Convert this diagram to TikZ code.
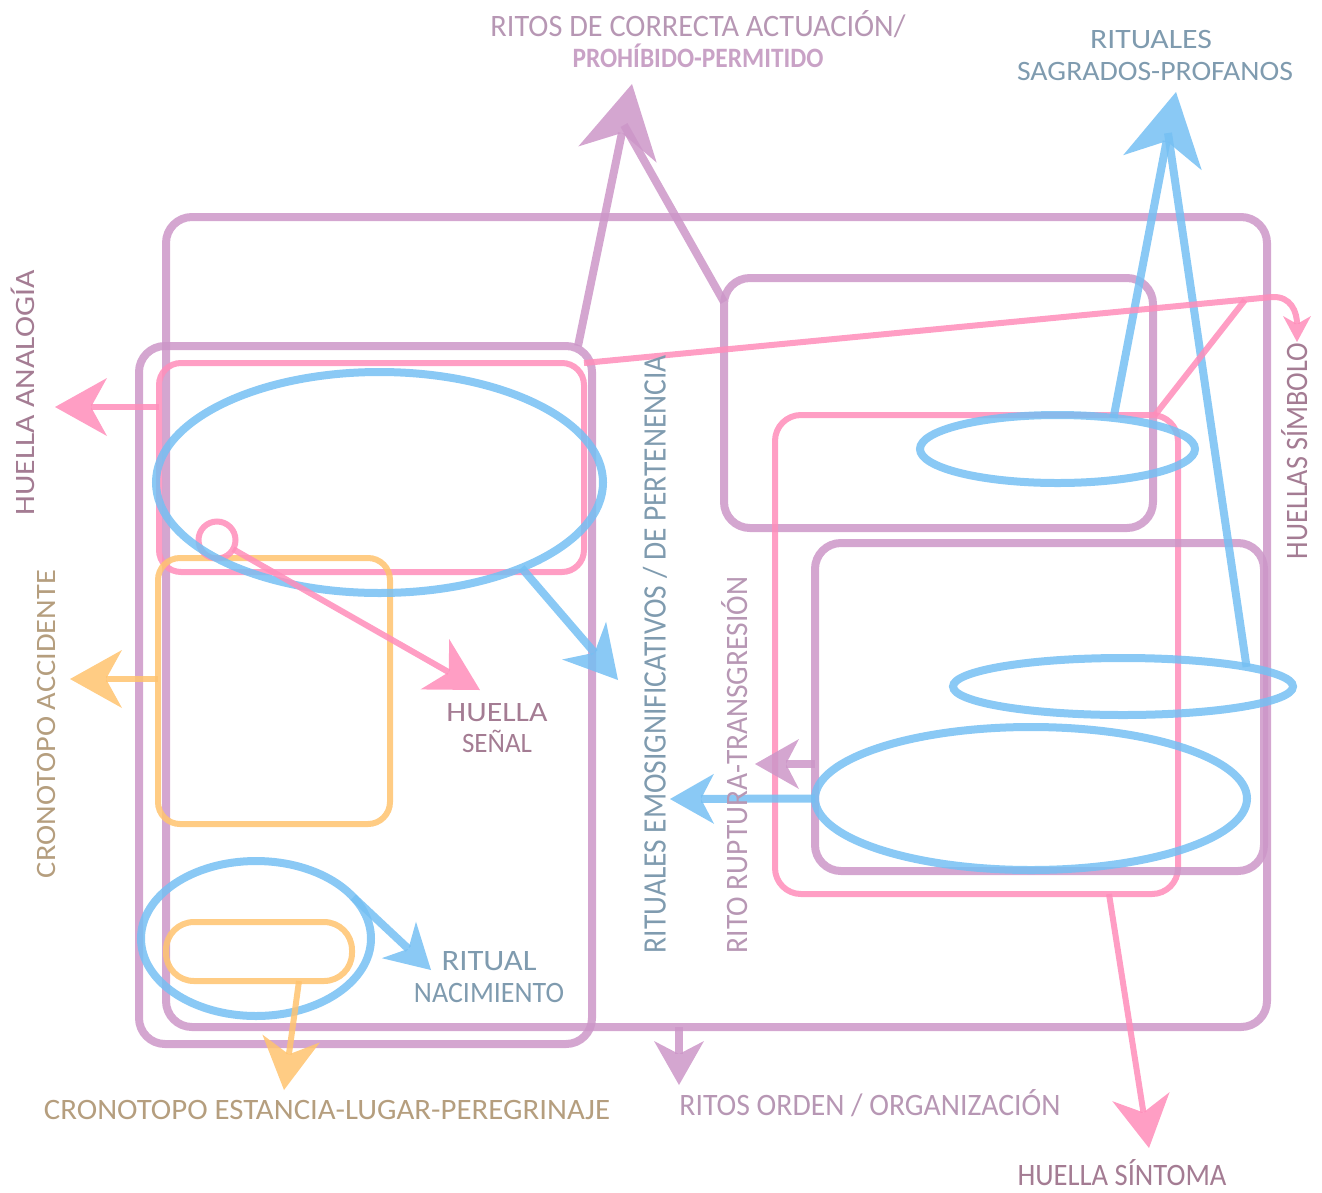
\documentclass[tikz,border=0pt]{standalone}
\usepackage{fontspec}
\setmainfont{Carlito}
\usepackage{graphicx}
\usetikzlibrary{arrows.meta,shapes.geometric}
\definecolor{cP}{RGB}{204,150,200}
\definecolor{cK}{RGB}{255,141,186}
\definecolor{cB}{RGB}{117,191,243}
\definecolor{cO}{RGB}{255,195,111}
\definecolor{tLil}{RGB}{183,151,180}
\definecolor{tLilB}{RGB}{201,162,198}
\definecolor{tBlu}{RGB}{127,155,175}
\definecolor{tMau}{RGB}{164,124,147}
\definecolor{tTan}{RGB}{181,158,126}
\newcommand\fitt[3]{\resizebox{#1}{#2}{\smash{#3}\vphantom{H}}}
\tikzset{
  TipL/.tip={Stealth[length=72pt,width=80pt,inset=22pt,line width=0pt]},
  TipM/.tip={Stealth[length=52pt,width=58pt,inset=16pt,line width=0pt]},
  TipS/.tip={Stealth[length=44pt,width=50pt,inset=13pt,line width=0pt]},
  TipT/.tip={Stealth[length=26pt,width=28pt,inset=8pt,line width=0pt]},
}
\begin{document}
\begin{tikzpicture}[x=1pt,y=-1pt,
  every node/.style={inner sep=0pt,outer sep=0pt},
  pl/.style={draw=cP,line width=8pt,opacity=0.85},
  kl/.style={draw=cK,line width=6pt,opacity=0.85},
  bl/.style={draw=cB,line width=8pt,opacity=0.85},
  ol/.style={draw=cO,line width=6pt,opacity=0.85},
  pbox/.style={pl,rectangle,rounded corners=26pt},
  kbox/.style={kl,rectangle,rounded corners=22pt},
  obox/.style={ol,rectangle,rounded corners=22pt},
  bell/.style={bl,ellipse}]
\useasboundingbox (0,0) rectangle (1322,1192);

% boxes
\node[pbox,minimum width=1101pt,minimum height=810pt] (purpleO) at (716.5,622) {};
\node[pbox,minimum width=453pt,minimum height=698pt] (purpleL) at (365.5,695) {};
\node[kbox,minimum width=425pt,minimum height=209pt] (pinkTL) at (371.5,467.5) {};
\node[obox,minimum width=232pt,minimum height=266pt] (orangeR) at (274,691) {};
\node[obox,rounded corners=28pt,minimum width=186pt,minimum height=59pt] (orangeP) at (259,951.5) {};
\node[pbox,minimum width=429pt,minimum height=250pt] (purpleRT) at (938.5,403) {};
\node[kbox,rounded corners=26pt,minimum width=403pt,minimum height=479pt] (pinkR) at (976.5,654.5) {};
\node[pbox,minimum width=449pt,minimum height=328pt] (purpleRB) at (1039.5,707) {};
\node[kl,circle,minimum size=37pt] (dotP) at (217,540) {};

% ellipses
\node[bell,minimum width=447pt,minimum height=221pt] (blueL) at (379.5,482.5) {};
\node[bell,minimum width=230pt,minimum height=155pt] (blueB) at (256,938.5) {};
\node[bell,minimum width=275pt,minimum height=68pt] (blueR1) at (1057.5,449) {};
\node[bell,minimum width=340pt,minimum height=57pt] (blueR2) at (1123,686.5) {};
\node[bell,minimum width=432pt,minimum height=143pt] (blueR3) at (1031,798.5) {};

% coordinates
\coordinate (tPT) at (632,84);
\coordinate (inPT) at (624,125);
\coordinate (tBT) at (1176,92);
\coordinate (inBT) at (1168,133);
\coordinate (tHA) at (55,407);
\coordinate (tCA) at (70,679);
\coordinate (tHS) at (480,690);
\coordinate (tEM) at (618,680);
\coordinate (tRN) at (431,970);
\coordinate (tCE) at (284,1090);
\coordinate (tRO) at (679,1085);
\coordinate (tSI) at (1149,1148);
\coordinate (tBR) at (670,799);
\coordinate (tPR) at (755,764);
\coordinate (tSY) at (1297,342);
\coordinate (jS) at (1272,297);
\coordinate (jS2) at (1245,300);
\coordinate (cS1) at (1291,296);
\coordinate (cS2) at (1297,312);

% connectors
\draw[pl,-{TipL}] ([xshift=-14pt]purpleL.north east) -- (tPT);
\draw[pl] ([yshift=-24pt]purpleRT.north west) -- (inPT);
\draw[bl,-{TipL}] (blueR1.29) -- (tBT);
\draw[bl] (blueR2.9) -- (inBT);
\draw[kl,-{TipT}] (pinkTL.north east) -- (jS) .. controls (cS1) and (cS2) .. (tSY);
\draw[kl] ([xshift=-23pt]pinkR.north east) -- (jS2);
\draw[kl,-{TipM}] (pinkTL.west |- tHA) -- (tHA);
\draw[ol,-{TipM}] (orangeR.west |- tCA) -- (tCA);
\draw[kl,-{TipM}] (dotP) -- (tHS);
\draw[bl,-{TipM}] (blueL.-31) -- (tEM);
\draw[bl,-{TipS}] (blueB.23) -- (tRN);
\draw[ol,-{TipM}] ([xshift=40pt]orangeP.south) -- (tCE);
\draw[pl,-{TipS}] (purpleO.south -| tRO) -- (tRO);
\draw[kl,-{TipM}] ([xshift=132.5pt]pinkR.south) -- (tSI);
\draw[bl,-{TipS}] (blueR3.west) -- (tBR);
\draw[pl,-{TipS}] (purpleRB.west |- tPR) -- (tPR);

% labels
\node[text=tLil] (lRC) at (698,26) {\fitt{415pt}{20pt}{RITOS DE CORRECTA ACTUACIÓN/}};
\node[text=tLilB] (lPP) at (698,58) {\fitt{251pt}{18pt}{\bfseries PROHÍBIDO-PERMITIDO}};
\node[text=tBlu] (lRS1) at (1151,39) {\fitt{122pt}{18pt}{RITUALES}};
\node[text=tBlu] (lRS2) at (1155,71) {\fitt{276pt}{18pt}{SAGRADOS-PROFANOS}};
\node[text=tMau,rotate=90] (lHA) at (25,393) {\fitt{245pt}{18pt}{HUELLA ANALOGÍA}};
\node[text=tTan,rotate=90] (lCA) at (46,724) {\fitt{308pt}{18pt}{CRONOTOPO ACCIDENTE}};
\node[text=tMau] (lHS1) at (497,712) {\fitt{101pt}{18pt}{HUELLA}};
\node[text=tMau] (lHS2) at (497,743) {\fitt{70pt}{18pt}{SEÑAL}};
\node[text=tBlu] (lRN1) at (489,961) {\fitt{95pt}{19pt}{RITUAL}};
\node[text=tBlu] (lRN2) at (489,993) {\fitt{150pt}{19pt}{NACIMIENTO}};
\node[text=tBlu,rotate=90] (lEM) at (655,654) {\fitt{598pt}{21pt}{RITUALES EMOSIGNIFICATIVOS / DE PERTENENCIA}};
\node[text=tLil,rotate=90] (lRR) at (737,765) {\fitt{376pt}{20pt}{RITO RUPTURA-TRANSGRESIÓN}};
\node[text=tMau,rotate=90] (lSY) at (1297,451) {\fitt{216pt}{20pt}{HUELLAS SÍMBOLO}};
\node[text=tTan] (lCE) at (327,1110) {\fitt{566pt}{19pt}{CRONOTOPO ESTANCIA-LUGAR-PEREGRINAJE}};
\node[text=tLil] (lRO) at (870,1105) {\fitt{381pt}{20pt}{RITOS ORDEN / ORGANIZACIÓN}};
\node[text=tMau] (lSI) at (1122,1175) {\fitt{209pt}{20pt}{HUELLA SÍNTOMA}};
\end{tikzpicture}
\end{document}
